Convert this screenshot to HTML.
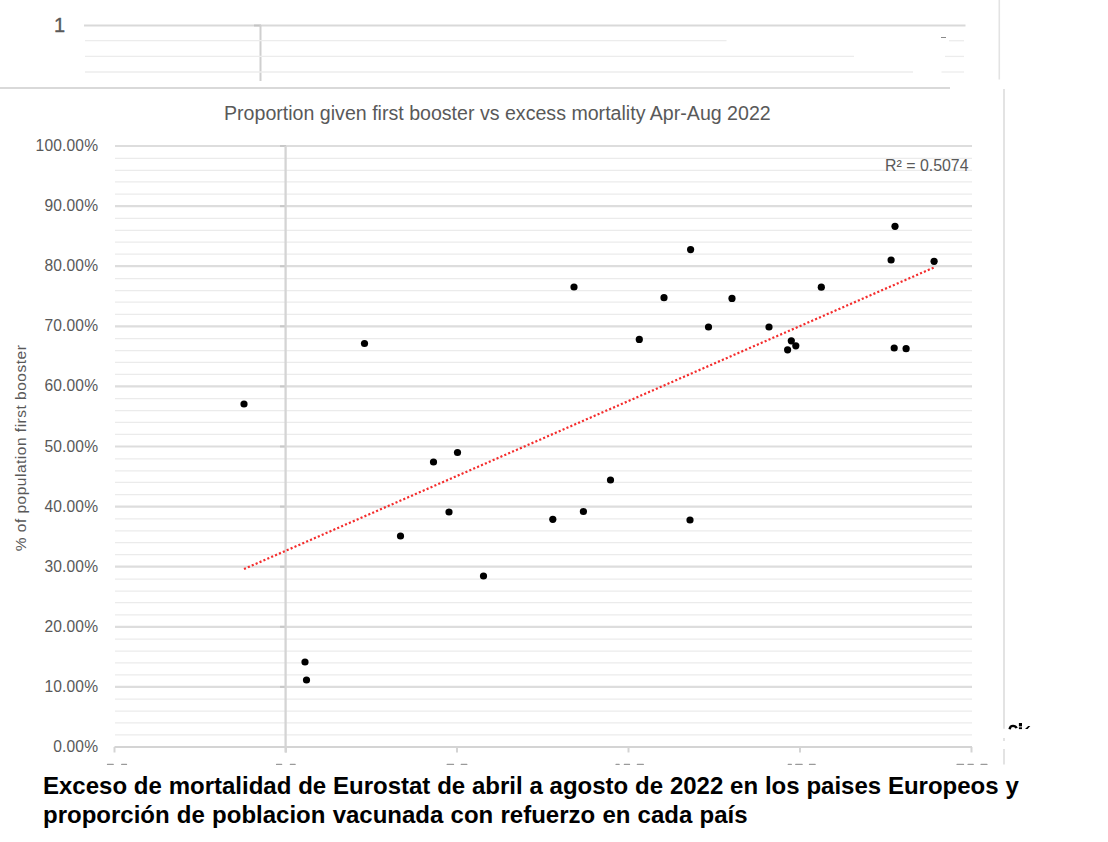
<!DOCTYPE html>
<html><head><meta charset="utf-8">
<style>
html,body{margin:0;padding:0;background:#fff;}
body{width:1108px;height:842px;position:relative;overflow:hidden;font-family:"Liberation Sans",sans-serif;}
svg{position:absolute;left:0;top:0;}
.yl{position:absolute;right:1009.8px;width:80px;text-align:right;font-size:15.6px;letter-spacing:0.15px;line-height:19px;color:#595959;white-space:nowrap;}
.t{position:absolute;white-space:nowrap;}
.cap{left:43px;font-weight:bold;font-size:24px;line-height:28.7px;color:#000;}
</style></head><body>
<svg width="1108" height="842" viewBox="0 0 1108 842">
<line x1="115" x2="972" y1="158.30" y2="158.30" stroke="#ebebeb" stroke-width="1.25"/>
<line x1="115" x2="972" y1="170.30" y2="170.30" stroke="#ebebeb" stroke-width="1.25"/>
<line x1="115" x2="972" y1="181.95" y2="181.95" stroke="#ebebeb" stroke-width="1.25"/>
<line x1="115" x2="972" y1="194.05" y2="194.05" stroke="#ebebeb" stroke-width="1.25"/>
<line x1="115" x2="972" y1="218.40" y2="218.40" stroke="#ebebeb" stroke-width="1.25"/>
<line x1="115" x2="972" y1="230.40" y2="230.40" stroke="#ebebeb" stroke-width="1.25"/>
<line x1="115" x2="972" y1="242.05" y2="242.05" stroke="#ebebeb" stroke-width="1.25"/>
<line x1="115" x2="972" y1="254.15" y2="254.15" stroke="#ebebeb" stroke-width="1.25"/>
<line x1="115" x2="972" y1="278.50" y2="278.50" stroke="#ebebeb" stroke-width="1.25"/>
<line x1="115" x2="972" y1="290.50" y2="290.50" stroke="#ebebeb" stroke-width="1.25"/>
<line x1="115" x2="972" y1="302.15" y2="302.15" stroke="#ebebeb" stroke-width="1.25"/>
<line x1="115" x2="972" y1="314.25" y2="314.25" stroke="#ebebeb" stroke-width="1.25"/>
<line x1="115" x2="972" y1="338.60" y2="338.60" stroke="#ebebeb" stroke-width="1.25"/>
<line x1="115" x2="972" y1="350.60" y2="350.60" stroke="#ebebeb" stroke-width="1.25"/>
<line x1="115" x2="972" y1="362.25" y2="362.25" stroke="#ebebeb" stroke-width="1.25"/>
<line x1="115" x2="972" y1="374.35" y2="374.35" stroke="#ebebeb" stroke-width="1.25"/>
<line x1="115" x2="972" y1="398.70" y2="398.70" stroke="#ebebeb" stroke-width="1.25"/>
<line x1="115" x2="972" y1="410.70" y2="410.70" stroke="#ebebeb" stroke-width="1.25"/>
<line x1="115" x2="972" y1="422.35" y2="422.35" stroke="#ebebeb" stroke-width="1.25"/>
<line x1="115" x2="972" y1="434.45" y2="434.45" stroke="#ebebeb" stroke-width="1.25"/>
<line x1="115" x2="972" y1="458.80" y2="458.80" stroke="#ebebeb" stroke-width="1.25"/>
<line x1="115" x2="972" y1="470.80" y2="470.80" stroke="#ebebeb" stroke-width="1.25"/>
<line x1="115" x2="972" y1="482.45" y2="482.45" stroke="#ebebeb" stroke-width="1.25"/>
<line x1="115" x2="972" y1="494.55" y2="494.55" stroke="#ebebeb" stroke-width="1.25"/>
<line x1="115" x2="972" y1="518.90" y2="518.90" stroke="#ebebeb" stroke-width="1.25"/>
<line x1="115" x2="972" y1="530.90" y2="530.90" stroke="#ebebeb" stroke-width="1.25"/>
<line x1="115" x2="972" y1="542.55" y2="542.55" stroke="#ebebeb" stroke-width="1.25"/>
<line x1="115" x2="972" y1="554.65" y2="554.65" stroke="#ebebeb" stroke-width="1.25"/>
<line x1="115" x2="972" y1="579.00" y2="579.00" stroke="#ebebeb" stroke-width="1.25"/>
<line x1="115" x2="972" y1="591.00" y2="591.00" stroke="#ebebeb" stroke-width="1.25"/>
<line x1="115" x2="972" y1="602.65" y2="602.65" stroke="#ebebeb" stroke-width="1.25"/>
<line x1="115" x2="972" y1="614.75" y2="614.75" stroke="#ebebeb" stroke-width="1.25"/>
<line x1="115" x2="972" y1="639.10" y2="639.10" stroke="#ebebeb" stroke-width="1.25"/>
<line x1="115" x2="972" y1="651.10" y2="651.10" stroke="#ebebeb" stroke-width="1.25"/>
<line x1="115" x2="972" y1="662.75" y2="662.75" stroke="#ebebeb" stroke-width="1.25"/>
<line x1="115" x2="972" y1="674.85" y2="674.85" stroke="#ebebeb" stroke-width="1.25"/>
<line x1="115" x2="972" y1="699.20" y2="699.20" stroke="#ebebeb" stroke-width="1.25"/>
<line x1="115" x2="972" y1="711.20" y2="711.20" stroke="#ebebeb" stroke-width="1.25"/>
<line x1="115" x2="972" y1="722.85" y2="722.85" stroke="#ebebeb" stroke-width="1.25"/>
<line x1="115" x2="972" y1="734.95" y2="734.95" stroke="#ebebeb" stroke-width="1.25"/>
<line x1="115" x2="972" y1="146.00" y2="146.00" stroke="#dddddd" stroke-width="2.2"/>
<line x1="280" x2="286" y1="146.00" y2="146.00" stroke="#c8c8c8" stroke-width="2"/>
<line x1="115" x2="972" y1="206.10" y2="206.10" stroke="#dddddd" stroke-width="2.2"/>
<line x1="280" x2="286" y1="206.10" y2="206.10" stroke="#c8c8c8" stroke-width="2"/>
<line x1="115" x2="972" y1="266.20" y2="266.20" stroke="#dddddd" stroke-width="2.2"/>
<line x1="280" x2="286" y1="266.20" y2="266.20" stroke="#c8c8c8" stroke-width="2"/>
<line x1="115" x2="972" y1="326.30" y2="326.30" stroke="#dddddd" stroke-width="2.2"/>
<line x1="280" x2="286" y1="326.30" y2="326.30" stroke="#c8c8c8" stroke-width="2"/>
<line x1="115" x2="972" y1="386.40" y2="386.40" stroke="#dddddd" stroke-width="2.2"/>
<line x1="280" x2="286" y1="386.40" y2="386.40" stroke="#c8c8c8" stroke-width="2"/>
<line x1="115" x2="972" y1="446.50" y2="446.50" stroke="#dddddd" stroke-width="2.2"/>
<line x1="280" x2="286" y1="446.50" y2="446.50" stroke="#c8c8c8" stroke-width="2"/>
<line x1="115" x2="972" y1="506.60" y2="506.60" stroke="#dddddd" stroke-width="2.2"/>
<line x1="280" x2="286" y1="506.60" y2="506.60" stroke="#c8c8c8" stroke-width="2"/>
<line x1="115" x2="972" y1="566.70" y2="566.70" stroke="#dddddd" stroke-width="2.2"/>
<line x1="280" x2="286" y1="566.70" y2="566.70" stroke="#c8c8c8" stroke-width="2"/>
<line x1="115" x2="972" y1="626.80" y2="626.80" stroke="#dddddd" stroke-width="2.2"/>
<line x1="280" x2="286" y1="626.80" y2="626.80" stroke="#c8c8c8" stroke-width="2"/>
<line x1="115" x2="972" y1="686.90" y2="686.90" stroke="#dddddd" stroke-width="2.2"/>
<line x1="280" x2="286" y1="686.90" y2="686.90" stroke="#c8c8c8" stroke-width="2"/>
<line x1="114.5" x2="972" y1="747.00" y2="747.00" stroke="#d4d4d4" stroke-width="2.2"/>
<line x1="114.5" x2="114.5" y1="747.00" y2="752.5" stroke="#d4d4d4" stroke-width="2"/>
<line x1="286" x2="286" y1="747.00" y2="752.5" stroke="#d4d4d4" stroke-width="2"/>
<line x1="457" x2="457" y1="747.00" y2="752.5" stroke="#d4d4d4" stroke-width="2"/>
<line x1="628.5" x2="628.5" y1="747.00" y2="752.5" stroke="#d4d4d4" stroke-width="2"/>
<line x1="800" x2="800" y1="747.00" y2="752.5" stroke="#d4d4d4" stroke-width="2"/>
<line x1="971.5" x2="971.5" y1="747.00" y2="752.5" stroke="#d4d4d4" stroke-width="2"/>
<line x1="285.6" x2="285.6" y1="146" y2="752.5" stroke="#d4d4d4" stroke-width="2.3"/>
<line x1="244" y1="569" x2="934" y2="267.5" stroke="#f42c2c" stroke-width="2.2" stroke-dasharray="2.1 2.14"/>
<circle cx="244" cy="404" r="3.6" fill="#000"/>
<circle cx="305" cy="662" r="3.6" fill="#000"/>
<circle cx="306.5" cy="680" r="3.6" fill="#000"/>
<circle cx="364.5" cy="343.5" r="3.6" fill="#000"/>
<circle cx="400.5" cy="536" r="3.6" fill="#000"/>
<circle cx="433.5" cy="462" r="3.6" fill="#000"/>
<circle cx="457.5" cy="452.5" r="3.6" fill="#000"/>
<circle cx="449" cy="512" r="3.6" fill="#000"/>
<circle cx="483.5" cy="576" r="3.6" fill="#000"/>
<circle cx="552.8" cy="519.3" r="3.6" fill="#000"/>
<circle cx="583.4" cy="511.5" r="3.6" fill="#000"/>
<circle cx="610.5" cy="480" r="3.6" fill="#000"/>
<circle cx="574" cy="287" r="3.6" fill="#000"/>
<circle cx="639.3" cy="339.4" r="3.6" fill="#000"/>
<circle cx="664" cy="297.7" r="3.6" fill="#000"/>
<circle cx="690.6" cy="249.6" r="3.6" fill="#000"/>
<circle cx="690" cy="520" r="3.6" fill="#000"/>
<circle cx="708.5" cy="327" r="3.6" fill="#000"/>
<circle cx="732" cy="298.4" r="3.6" fill="#000"/>
<circle cx="769" cy="327" r="3.6" fill="#000"/>
<circle cx="787.6" cy="349.8" r="3.6" fill="#000"/>
<circle cx="791.3" cy="340.8" r="3.6" fill="#000"/>
<circle cx="795.8" cy="345.8" r="3.6" fill="#000"/>
<circle cx="821.3" cy="287.2" r="3.6" fill="#000"/>
<circle cx="891.1" cy="260" r="3.6" fill="#000"/>
<circle cx="895" cy="226.3" r="3.6" fill="#000"/>
<circle cx="894.2" cy="348" r="3.6" fill="#000"/>
<circle cx="906.1" cy="348.7" r="3.6" fill="#000"/>
<circle cx="934.1" cy="261.3" r="3.6" fill="#000"/>
<line x1="107.4" x2="113.3" y1="764.4" y2="764.4" stroke="#9a9a9a" stroke-width="1.1" stroke-linecap="round"/>
<line x1="121.6" x2="126.6" y1="764.4" y2="764.4" stroke="#9a9a9a" stroke-width="1.1" stroke-linecap="round"/>
<line x1="276.5" x2="281.7" y1="764.4" y2="764.4" stroke="#9a9a9a" stroke-width="1.1" stroke-linecap="round"/>
<line x1="290.3" x2="295.2" y1="764.4" y2="764.4" stroke="#9a9a9a" stroke-width="1.1" stroke-linecap="round"/>
<line x1="447.1" x2="453.6" y1="764.4" y2="764.4" stroke="#9a9a9a" stroke-width="1.1" stroke-linecap="round"/>
<line x1="461.2" x2="466.9" y1="764.4" y2="764.4" stroke="#9a9a9a" stroke-width="1.1" stroke-linecap="round"/>
<line x1="616" x2="619.2" y1="764.4" y2="764.4" stroke="#9a9a9a" stroke-width="1.1" stroke-linecap="round"/>
<line x1="624.3" x2="629.6" y1="764.4" y2="764.4" stroke="#9a9a9a" stroke-width="1.1" stroke-linecap="round"/>
<line x1="637.3" x2="643.4" y1="764.4" y2="764.4" stroke="#9a9a9a" stroke-width="1.1" stroke-linecap="round"/>
<line x1="788.2" x2="791.4" y1="764.4" y2="764.4" stroke="#9a9a9a" stroke-width="1.1" stroke-linecap="round"/>
<line x1="795.7" x2="802.2" y1="764.4" y2="764.4" stroke="#9a9a9a" stroke-width="1.1" stroke-linecap="round"/>
<line x1="809.4" x2="815.2" y1="764.4" y2="764.4" stroke="#9a9a9a" stroke-width="1.1" stroke-linecap="round"/>
<line x1="957" x2="963.6" y1="764.4" y2="764.4" stroke="#9a9a9a" stroke-width="1.1" stroke-linecap="round"/>
<line x1="968" x2="973.3" y1="764.4" y2="764.4" stroke="#9a9a9a" stroke-width="1.1" stroke-linecap="round"/>
<line x1="981" x2="987" y1="764.4" y2="764.4" stroke="#9a9a9a" stroke-width="1.1" stroke-linecap="round"/>
<line x1="84" x2="965.5" y1="25.5" y2="25.5" stroke="#d9d9d9" stroke-width="2"/>
<line x1="254" x2="261" y1="25.5" y2="25.5" stroke="#c4c4c4" stroke-width="2"/>
<line x1="260.5" x2="260.5" y1="25" y2="81" stroke="#cfcfcf" stroke-width="2"/>
<line x1="85" x2="726.5" y1="40.7" y2="40.7" stroke="#ececec" stroke-width="1.3"/>
<line x1="949" x2="964" y1="40.7" y2="40.7" stroke="#ececec" stroke-width="1.3"/>
<line x1="941" x2="946" y1="37.5" y2="37.5" stroke="#8a8a8a" stroke-width="1"/>
<line x1="85" x2="854" y1="56.4" y2="56.4" stroke="#ececec" stroke-width="1.3"/>
<line x1="945" x2="964" y1="56.4" y2="56.4" stroke="#ececec" stroke-width="1.3"/>
<line x1="85" x2="913" y1="72" y2="72" stroke="#ececec" stroke-width="1.3"/>
<line x1="941.5" x2="964" y1="72" y2="72" stroke="#ececec" stroke-width="1.3"/>
<line x1="0" x2="950" y1="88" y2="88" stroke="#d9d9d9" stroke-width="2.2"/>
<line x1="999.3" x2="999.3" y1="0" y2="79.5" stroke="#e3e3e3" stroke-width="1.6"/>
<line x1="1004" x2="1004" y1="89" y2="728.7" stroke="#e3e3e3" stroke-width="2"/>
<line x1="1004" x2="1004" y1="738" y2="741" stroke="#e3e3e3" stroke-width="2"/>
<line x1="1004" x2="1004" y1="749" y2="764.5" stroke="#e3e3e3" stroke-width="2"/>
<path d="M1009.6 729.2 C1010 726.6 1011.5 725.9 1013 725.9 C1014.6 725.9 1016 726.6 1016.6 728.2" fill="none" stroke="#000" stroke-width="2.4"/>
<rect x="1018.9" y="723" width="3.1" height="3.4" fill="#000"/>
<rect x="1018.9" y="727.3" width="3.1" height="1.8" fill="#000"/>
<path d="M1025 729.1 L1027.6 729.1 L1030.3 725.9 L1028.2 725.9 Z" fill="#000"/>
</svg>
<div class="t" id="one" style="left:54px;top:14px;font-size:20px;line-height:22px;color:#595959;-webkit-text-stroke:0.35px #595959;">1</div>
<div class="t" id="title" style="left:224px;top:101.5px;font-size:19.6px;line-height:22px;letter-spacing:0px;color:#595959;">Proportion given first booster vs excess mortality Apr-Aug 2022</div>
<div class="yl" style="top:136.0px">100.00%</div>
<div class="yl" style="top:196.1px">90.00%</div>
<div class="yl" style="top:256.2px">80.00%</div>
<div class="yl" style="top:316.3px">70.00%</div>
<div class="yl" style="top:376.4px">60.00%</div>
<div class="yl" style="top:436.5px">50.00%</div>
<div class="yl" style="top:496.6px">40.00%</div>
<div class="yl" style="top:556.7px">30.00%</div>
<div class="yl" style="top:616.8px">20.00%</div>
<div class="yl" style="top:676.9px">10.00%</div>
<div class="yl" style="top:737.0px">0.00%</div>

<div class="t" id="r2" style="left:885px;top:155.8px;font-size:15.9px;line-height:19px;color:#595959;">R² = 0.5074</div>
<div class="t" id="ytitle" style="left:20px;top:448px;font-size:15.5px;line-height:19px;letter-spacing:0.5px;color:#595959;transform:translate(-50%,-50%) rotate(-90deg);">% of population first booster</div>
<div class="t cap" style="top:772.2px;word-spacing:0.14px;">Exceso de mortalidad de Eurostat de abril a agosto de 2022 en los paises Europeos y</div>
<div class="t cap" style="top:800.9px;word-spacing:0.55px;">proporción de poblacion vacunada con refuerzo en cada país</div>
</body></html>
